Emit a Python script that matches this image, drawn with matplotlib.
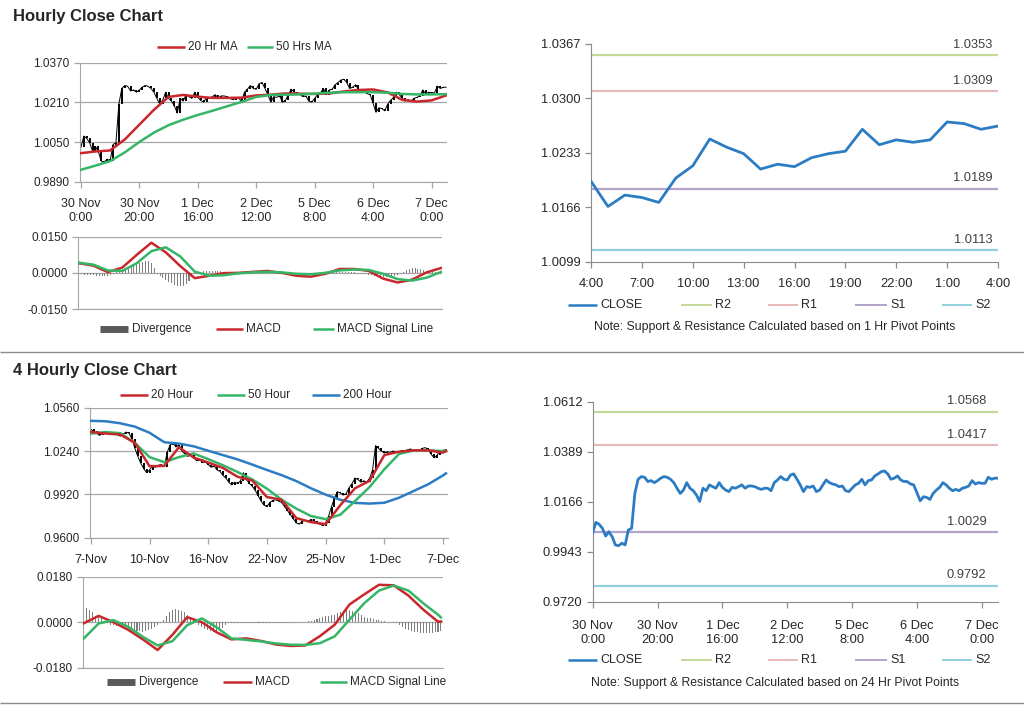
import numpy as np
import matplotlib.pyplot as plt
from matplotlib.lines import Line2D

plt.rcParams['font.family'] = ['Liberation Sans', 'DejaVu Sans']

# ---------------- data ----------------
# hourly closes, 30 Nov 0:00 -> 7 Dec 5:00 (trading hours)
hourly_close = [
    1.0028, 1.0074, 1.0065, 1.0047, 1.0013, 1.0032, 1.0010, 0.9973, 0.9970, 0.9981,
    0.9973, 1.0040, 1.0047, 1.0203, 1.0266, 1.0278, 1.0275, 1.0256, 1.0260, 1.0251,
    1.0260, 1.0271, 1.0278, 1.0275, 1.0266, 1.0251, 1.0226, 1.0203, 1.0218, 1.0251,
    1.0226, 1.0215, 1.0196, 1.0167, 1.0226, 1.0215, 1.0241, 1.0233, 1.0226, 1.0251,
    1.0230, 1.0218, 1.0211, 1.0230, 1.0226, 1.0233, 1.0241, 1.0226, 1.0236, 1.0236,
    1.0233, 1.0226, 1.0221, 1.0226, 1.0226, 1.0215, 1.0251, 1.0263, 1.0278, 1.0266,
    1.0263, 1.0285, 1.0290, 1.0266, 1.0241, 1.0211, 1.0233, 1.0230, 1.0236, 1.0211,
    1.0218, 1.0241, 1.0263, 1.0251, 1.0245, 1.0241, 1.0233, 1.0236, 1.0215, 1.0211,
    1.0226, 1.0241, 1.0248, 1.0266, 1.0241, 1.0260, 1.0263, 1.0281, 1.0290, 1.0300,
    1.0303, 1.0290, 1.0266, 1.0271, 1.0281, 1.0263, 1.0256, 1.0256, 1.0245, 1.0241,
    1.0206, 1.0170, 1.0188, 1.0185, 1.0176, 1.0203, 1.0218, 1.0230, 1.0251, 1.0241,
    1.0226, 1.0215, 1.0221, 1.0215, 1.0226, 1.0230, 1.0236, 1.0260, 1.0245, 1.0251,
    1.0248, 1.0248, 1.0275, 1.0266, 1.0271, 1.0271]
hourly_labels = ['30 Nov\n0:00', '30 Nov\n20:00', '1 Dec\n16:00', '2 Dec\n12:00',
                 '5 Dec\n8:00', '6 Dec\n4:00', '7 Dec\n0:00']

# moving averages / MACD of hourly chart, sampled every 5 hours
hourly_sample = list(range(0, 126, 5))
ma20_hr = [1.0005, 1.0012, 1.0016, 1.0060, 1.0120, 1.0180, 1.0232, 1.0240, 1.0233, 1.0228,
           1.0228, 1.0229, 1.0238, 1.0241, 1.0246, 1.0245, 1.0244, 1.0246, 1.0254, 1.0260,
           1.0262, 1.0250, 1.0220, 1.0213, 1.0218, 1.0238]
ma50_hr = [0.9938, 0.9955, 0.9973, 1.0008, 1.0050, 1.0088, 1.0118, 1.0140, 1.0159, 1.0176,
           1.0194, 1.0212, 1.0232, 1.0240, 1.0241, 1.0242, 1.0245, 1.0249, 1.0251, 1.0251,
           1.0251, 1.0249, 1.0244, 1.0242, 1.0242, 1.0243]
macd_hr = [0.0040, 0.0030, 0.0003, 0.0022, 0.0075, 0.0125, 0.0085, 0.0028, -0.0022, -0.0012,
           -0.0001, 0.0000, 0.0004, 0.0008, 0.0000, -0.0012, -0.0016, -0.0004, 0.0016, 0.0016,
           0.0008, -0.0024, -0.0040, -0.0028, 0.0002, 0.0020]
signal_hr = [0.0042, 0.0034, 0.0010, 0.0008, 0.0040, 0.0090, 0.0106, 0.0068, 0.0005, -0.0012,
             -0.0010, -0.0002, 0.0002, 0.0004, 0.0002, -0.0004, -0.0006, 0.0000, 0.0010, 0.0014,
             0.0012, -0.0004, -0.0026, -0.0032, -0.0020, 0.0004]
# divergence, hourly, in units of 1e-4
div_hr = [-4, -6, -8, -8, -10, -10, -12, -12, -13, -14, -12, -10, -6,
          2, 6, 10, 14, 18, 24, 30, 36, 42, 46, 50, 48, 40, 20,
          -6, -14, -22, -30, -38, -44, -50, -54, -56, -54, -46, -34, -18, -4,
          2, 4, 6, 8, 8, 8, 8, 6, 6, 4, 4, 4, 2, 2, 2, 2, 2, 2, 2, 2,
          2, 2, 4, 4, 2, 2, 0, 0, 0, 0,
          -2, -4, -4, -6, -6, -6, -6, -4, -4, -4, -2, -2, -2, 0, 0,
          2, 2, 4, 4, 4, 4, 4, 2, 2, 2, 0,
          -2, -4, -6, -8, -10, -12, -14, -16, -18, -18, -18, -16, -14, -10,
          -4, 4, 10, 16, 20, 20, 18, 14, 10, 8,
          6, 6, 4, 4, 4]

# last 24 hours (top-right)
day_close = [1.0198, 1.0167, 1.0181, 1.0178, 1.0172, 1.0202, 1.0217, 1.0250, 1.0240, 1.0232,
             1.0213, 1.0219, 1.0216, 1.0227, 1.0232, 1.0235, 1.0262, 1.0243, 1.0249, 1.0246,
             1.0249, 1.0271, 1.0269, 1.0262, 1.0266]
day_labels = ['4:00', '7:00', '10:00', '13:00', '16:00', '19:00', '22:00', '1:00', '4:00']
pivots_1h = {'R2': 1.0353, 'R1': 1.0309, 'S1': 1.0189, 'S2': 1.0113}
pivots_24h = {'R2': 1.0568, 'R1': 1.0417, 'S1': 1.0029, 'S2': 0.9792}

# 4-hourly closes, 7 Nov -> 7 Dec
h4_close = [
    1.0400, 1.0385, 1.0370, 1.0355, 1.0375, 1.0380, 1.0365, 1.0372, 1.0378, 1.0360,
    1.0350, 1.0365, 1.0380, 1.0372, 1.0330, 1.0260, 1.0200, 1.0150, 1.0110, 1.0080,
    1.0100, 1.0130, 1.0120, 1.0135, 1.0140, 1.0125, 1.0230, 1.0285, 1.0300, 1.0270,
    1.0285, 1.0240, 1.0220, 1.0200, 1.0210, 1.0190, 1.0170, 1.0180, 1.0155, 1.0160,
    1.0140, 1.0120, 1.0130, 1.0100, 1.0090, 1.0060, 1.0040, 1.0010, 0.9990, 1.0010,
    1.0000, 1.0020, 1.0080, 1.0030, 1.0000, 0.9980, 0.9950, 0.9910, 0.9870, 0.9840,
    0.9830, 0.9860, 0.9875, 0.9880, 0.9870, 0.9860, 0.9830, 0.9800, 0.9770, 0.9740,
    0.9710, 0.9700, 0.9720, 0.9730, 0.9720, 0.9735, 0.9725, 0.9710, 0.9700, 0.9690,
    0.9710, 0.9760, 0.9830, 0.9890, 0.9940, 0.9930, 0.9915, 0.9925, 0.9970, 1.0000,
    1.0040, 1.0030, 1.0010, 1.0020, 1.0010, 1.0040, 1.0100, 1.0280, 1.0260, 1.0240,
    1.0225, 1.0235, 1.0230, 1.0240, 1.0235, 1.0230, 1.0245, 1.0240, 1.0250, 1.0255,
    1.0245, 1.0250, 1.0245, 1.0260, 1.0265, 1.0250, 1.0215, 1.0190, 1.0210, 1.0240,
    1.0245, 1.0250]
h4_labels = ['7-Nov', '10-Nov', '16-Nov', '22-Nov', '25-Nov', '1-Dec', '7-Dec']

h4_sample = list(range(0, 121, 5)) + [121]
ma20_h4 = [1.0381, 1.0369, 1.0362, 1.0300, 1.0128, 1.0130, 1.0268, 1.0192, 1.0155, 1.0115,
           1.0050, 1.0022, 0.9900, 0.9880, 0.9745, 0.9715, 0.9700, 0.9840, 0.9965, 1.0020,
           1.0210, 1.0235, 1.0245, 1.0245, 1.0228, 1.0240]
ma50_h4 = [1.0369, 1.0380, 1.0372, 1.0300, 1.0195, 1.0158, 1.0195, 1.0222, 1.0180, 1.0135,
           1.0085, 1.0030, 0.9962, 0.9880, 0.9815, 0.9760, 0.9737, 0.9770, 0.9870, 0.9975,
           1.0105, 1.0218, 1.0245, 1.0245, 1.0240, 1.0240]
ma200_h4 = [1.0463, 1.0460, 1.0445, 1.0420, 1.0375, 1.0305, 1.0295, 1.0275, 1.0242, 1.0210,
            1.0178, 1.0140, 1.0100, 1.0062, 1.0018, 0.9965, 0.9918, 0.9880, 0.9857, 0.9852,
            0.9858, 0.9895, 0.9945, 0.9995, 1.0060, 1.0075]
macd_h4 = [-0.0004, 0.0025, 0.0000, -0.0030, -0.0068, -0.0110, -0.0050, 0.0020, 0.0000, -0.0040,
           -0.0068, -0.0064, -0.0074, -0.0088, -0.0094, -0.0092, -0.0055, -0.0010, 0.0070, 0.0110,
           0.0148, 0.0146, 0.0105, 0.0050, 0.0002, 0.0003]
signal_h4 = [-0.0064, -0.0005, 0.0008, -0.0018, -0.0058, -0.0092, -0.0075, -0.0012, 0.0015, -0.0020,
             -0.0064, -0.0070, -0.0076, -0.0084, -0.0089, -0.0090, -0.0083, -0.0056, 0.0010, 0.0075,
             0.0125, 0.0145, 0.0125, 0.0075, 0.0030, 0.0019]
div_h4 = [50, 55, 50, 40,
          25, 20, 15, 5,
          -5, -10, -12, -15, -15, -18, -20, -25, -28, -30, -33, -35, -37, -35, -30, -25, -18, -10,
          -2, 10,
          25, 40, 50, 52, 50, 45, 40, 30,
          20, 12, 2,
          -10, -18, -25, -30, -35, -37, -35, -30, -22, -12,
          -5, -3, -2, -3, -3, -2, -3, -2, -2, -3, -2, -2, -2, -3, -2, -2, -3, -2, -2, -2,
          -2, -1, -2, -1, -1, 2, 2, 3, 3,
          8, 12, 18, 22, 25, 25, 28, 30,
          35, 40, 45, 48, 50, 45, 40, 35,
          28, 22, 18, 15, 12, 10, 8, 6, 4, 2,
          0, -2, -5, -10,
          -18, -25, -30, -35, -38, -40, -42, -44, -44, -44, -42, -40, -38, -35]

# ---------------- style ----------------
RED = '#c8282c'
GREEN = '#35b566'
BLUE = '#2c7cc4'
GRID = '#a6a6a6'
TXT = '#262626'
PIV_COL = {'R2': '#c4d89a', 'R1': '#e8b9b8', 'S1': '#b4a3c9', 'S2': '#93cfdf'}

W, H = 1024, 706
fig = plt.figure(figsize=(W / 100, H / 100), dpi=100)


def add_ax(l, t, r, b):
    return fig.add_axes([l / W, 1 - b / H, (r - l) / W, (b - t) / H])


def fig_line(x0, x1, y, color, lw):
    fig.add_artist(Line2D([x0 / W, x1 / W], [1 - y / H, 1 - y / H], color=color, lw=lw,
                          transform=fig.transFigure, solid_capstyle='butt'))


def legend_item(x0, x1, y, color, label, lw=1.8, size=8.5):
    fig_line(x0, x1, y, color, lw)
    fig.text((x1 + 3) / W, 1 - y / H, label, ha='left', va='center', fontsize=size, color=TXT)


def style_grid_ax(ax, yticks, size=8.5):
    ax.set_ylim(yticks[0], yticks[-1])
    ax.set_yticks(yticks)
    ax.set_yticklabels([f'{v:.4f}' for v in yticks])
    ax.grid(axis='y', color=GRID, lw=0.9)
    ax.set_axisbelow(True)
    for s in ['top', 'right']:
        ax.spines[s].set_visible(False)
    ax.spines['left'].set_color(GRID)
    ax.spines['bottom'].set_color(GRID)
    ax.tick_params(colors=GRID, labelcolor=TXT, labelsize=size, length=4, width=0.9)


def price_bars(ax, close):
    c = np.asarray(close)
    x = np.arange(len(c))
    opens = np.r_[c[0], c[:-1]]
    ax.plot(x, c, color='black', lw=0.7, zorder=2)
    ax.vlines(x, np.minimum(opens, c), np.maximum(opens, c),
              color='black', lw=1.4, zorder=2)


def pivot_ax(ax, close, pivots, yticks, frac):
    x = np.arange(len(close))
    for k, v in pivots.items():
        ax.axhline(v, color=PIV_COL[k], lw=1.6, zorder=1)
        ax.annotate(f'{v:.4f}', xy=(frac, v), xycoords=('axes fraction', 'data'),
                    xytext=(0, 3), textcoords='offset points', ha='center', va='bottom',
                    fontsize=9.3, color='#404040')
    ax.plot(x, close, color=BLUE, lw=2, zorder=3)
    ax.set_ylim(yticks[0], yticks[-1])
    ax.set_yticks(yticks)
    ax.set_yticklabels([f'{v:.4f}' for v in yticks])
    for s in ['top', 'right']:
        ax.spines[s].set_visible(False)
    ax.spines['left'].set_color('#8c8c8c')
    ax.spines['bottom'].set_color('#8c8c8c')
    ax.tick_params(colors='#8c8c8c', labelcolor=TXT, labelsize=9.3, length=4, width=0.9)


# ---------------- titles & separators ----------------
fig.text(13 / W, 1 - 16 / H, 'Hourly Close Chart', fontsize=12, fontweight='bold',
         color=TXT, va='center', ha='left')
fig.text(13 / W, 1 - 370 / H, '4 Hourly Close Chart', fontsize=12, fontweight='bold',
         color=TXT, va='center', ha='left')
fig_line(0, W, 352, '#8c8c8c', 1.0)
fig_line(0, W, 703, '#8c8c8c', 1.0)

# ---------------- hourly price chart ----------------
ax1 = add_ax(80, 62.7, 447, 181.7)
price_bars(ax1, hourly_close)
ax1.plot(hourly_sample, ma20_hr, color=RED, lw=1.8, zorder=3)
ax1.plot(hourly_sample, ma50_hr, color=GREEN, lw=1.8, zorder=3)
style_grid_ax(ax1, [0.9890, 1.0050, 1.0210, 1.0370])
ax1.set_xlim(-0.3, 125.3)
ax1.set_xticks(range(0, 121, 20))
ax1.set_xticklabels(hourly_labels, fontsize=9)
ax1.tick_params(axis='x', pad=8)
legend_item(157, 185, 47, RED, '20 Hr MA')
legend_item(247, 273, 47, GREEN, '50 Hrs MA')

# ---------------- hourly MACD ----------------
ax2 = add_ax(78, 236.7, 442, 309)
ax2.bar(np.arange(len(div_hr)), np.array(div_hr) * 1e-4, width=0.35, color='#7f7f7f', zorder=2)
ax2.plot(hourly_sample, macd_hr, color=RED, lw=1.8, zorder=3)
ax2.plot(hourly_sample, signal_hr, color=GREEN, lw=1.8, zorder=3)
style_grid_ax(ax2, [-0.0150, 0.0000, 0.0150])
ax2.set_xlim(-0.3, 125.3)
ax2.set_xticks([])
fig_line(100, 128, 329, '#595959', 5)
fig.text(132 / W, 1 - 329 / H, 'Divergence', ha='left', va='center', fontsize=8.5, color=TXT)
legend_item(216, 243, 329, RED, 'MACD')
legend_item(313, 334, 329, GREEN, 'MACD Signal Line')

# ---------------- last 24 hours with pivots ----------------
ax3 = add_ax(591, 44, 998, 261.7)
pivot_ax(ax3, day_close, pivots_1h, [1.0099, 1.0166, 1.0233, 1.0300, 1.0367], 0.939)
ax3.set_xlim(0, 24)
ax3.set_xticks(range(0, 25, 3))
ax3.set_xticklabels(day_labels)
ax3.tick_params(axis='x', pad=8)
for x0, x1, key in [(568, 597, 'CLOSE'), (681, 712, 'R2'), (768, 798, 'R1'),
                    (855, 887, 'S1'), (942, 972, 'S2')]:
    legend_item(x0, x1, 305, BLUE if key == 'CLOSE' else PIV_COL[key], key,
                lw=1.8 if key == 'CLOSE' else 1.4, size=9)
fig.text(775 / W, 1 - 327 / H, 'Note: Support & Resistance Calculated based on 1 Hr Pivot Points',
         ha='center', va='center', fontsize=8.8, color=TXT)

# ---------------- 4-hourly price chart ----------------
ax4 = add_ax(90, 407.7, 448, 537.7)
price_bars(ax4, h4_close)
ax4.plot(h4_sample, ma200_h4, color=BLUE, lw=1.8, zorder=3)
ax4.plot(h4_sample, ma50_h4, color=GREEN, lw=1.8, zorder=3)
ax4.plot(h4_sample, ma20_h4, color=RED, lw=1.8, zorder=4)
style_grid_ax(ax4, [0.9600, 0.9920, 1.0240, 1.0560])
ax4.set_xlim(-0.3, 121.7)
ax4.set_xticks(range(0, 121, 20))
ax4.set_xticklabels(h4_labels, fontsize=9)
ax4.tick_params(axis='x', pad=8)
legend_item(120, 148, 395, RED, '20 Hour')
legend_item(217, 245, 395, GREEN, '50 Hour')
legend_item(312, 340, 395, BLUE, '200 Hour')

# ---------------- 4-hourly MACD ----------------
ax5 = add_ax(83, 576.7, 443, 667.7)
ax5.bar(np.arange(len(div_h4)), np.array(div_h4) * 1e-4, width=0.35, color='#7f7f7f', zorder=2)
ax5.plot(h4_sample, macd_h4, color=RED, lw=1.8, zorder=3)
ax5.plot(h4_sample, signal_h4, color=GREEN, lw=1.8, zorder=3)
style_grid_ax(ax5, [-0.0180, 0.0000, 0.0180])
ax5.set_xlim(-0.3, 121.7)
ax5.set_xticks([])
fig_line(107, 135, 681.7, '#595959', 5)
fig.text(139 / W, 1 - 681.7 / H, 'Divergence', ha='left', va='center', fontsize=8.5, color=TXT)
legend_item(223, 252, 681.7, RED, 'MACD')
legend_item(320, 347, 681.7, GREEN, 'MACD Signal Line')

# ---------------- hourly close with 24h pivots ----------------
ax6 = add_ax(592.7, 401.7, 998, 601.7)
pivot_ax(ax6, hourly_close, pivots_24h, [0.9720, 0.9943, 1.0166, 1.0389, 1.0612], 0.923)
ax6.set_xlim(0, 125)
ax6.set_xticks(range(0, 121, 20))
ax6.set_xticklabels(hourly_labels)
ax6.tick_params(axis='x', pad=9)
for x0, x1, key in [(568, 597, 'CLOSE'), (681, 712, 'R2'), (768, 798, 'R1'),
                    (855, 887, 'S1'), (942, 972, 'S2')]:
    legend_item(x0, x1, 660, BLUE if key == 'CLOSE' else PIV_COL[key], key,
                lw=1.8 if key == 'CLOSE' else 1.4, size=9)
fig.text(775 / W, 1 - 682.7 / H, 'Note: Support & Resistance Calculated based on 24 Hr Pivot Points',
         ha='center', va='center', fontsize=8.8, color=TXT)

fig.savefig('out.png', dpi=100, facecolor='white')
